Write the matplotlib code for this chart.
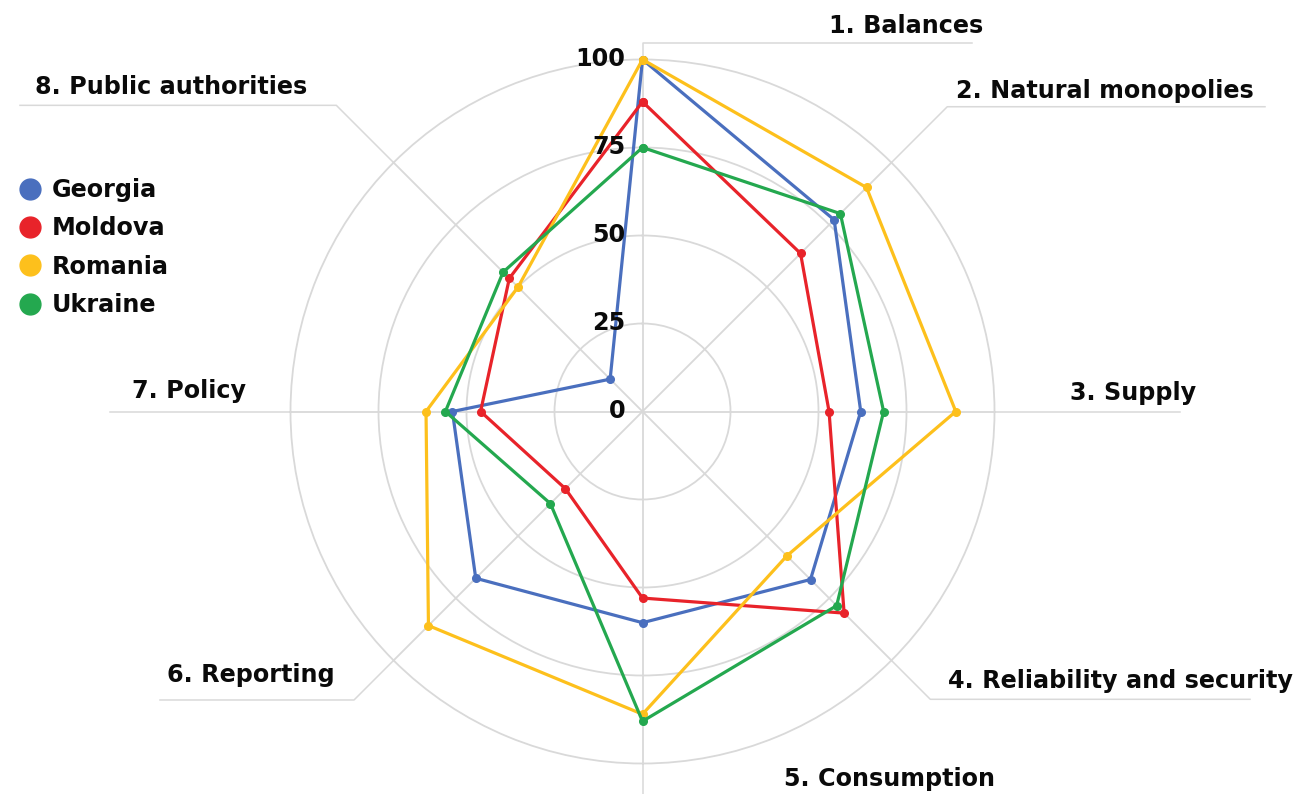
import numpy as np
import matplotlib
matplotlib.use("Agg")
import matplotlib.pyplot as plt
from matplotlib.lines import Line2D

# ---------------- data ----------------
categories = ["1. Balances", "2. Natural monopolies", "3. Supply",
              "4. Reliability and security", "5. Consumption",
              "6. Reporting", "7. Policy", "8. Public authorities"]
countries = ["Georgia", "Moldova", "Romania", "Ukraine"]
georgia = [100, 77, 62, 67.5, 60, 67, 54, 13]
moldova = [88, 63.5, 53, 81, 53, 31, 46, 53.5]
romania = [100, 90, 89, 58, 86, 86, 61.5, 50]
ukraine = [75, 79.5, 68.5, 78, 88, 37, 56, 56]
series = [georgia, moldova, romania, ukraine]
radial_ticks = [0, 25, 50, 75, 100]

colors = ["#4a6fbe", "#e8232a", "#fdc01c", "#24a84f"]
grid_col = "#d9d9d9"

# ---------------- figure ----------------
W, H = 1311, 794
fig = plt.figure(figsize=(W / 100, H / 100), dpi=100)
fig.patch.set_facecolor("white")

cx, cy, R = 642.5, 411.5, 352.0   # pixel layout of the radar (top-left origin)
FONT = dict(family="DejaVu Sans", weight="bold", size=17.2, color="#0a0a0a")

# overlay axes in pixel coordinates for leader lines / labels
ov = fig.add_axes([0, 0, 1, 1], zorder=0)
ov.set_xlim(0, W)
ov.set_ylim(H, 0)
ov.axis("off")
ov.patch.set_alpha(0)

ax = fig.add_axes([(cx - R) / W, (H - cy - R) / H, 2 * R / W, 2 * R / H],
                  projection="polar", zorder=1)
ax.patch.set_alpha(0)
ax.set_theta_zero_location("N")
ax.set_theta_direction(-1)
n = len(categories)
angles = np.arange(n) * 2 * np.pi / n
ax.set_ylim(0, 100)
ax.set_rgrids([25, 50, 75, 100], labels=[""] * 4)
ax.set_thetagrids(np.degrees(angles), labels=[""] * n)
ax.grid(True, color=grid_col, lw=1.3)
for gl in ax.yaxis.get_gridlines() + ax.xaxis.get_gridlines():
    gl.set_clip_on(False)
ax.spines["polar"].set_visible(False)
ax.tick_params(length=0)

for vals, name, col in zip(series, countries, colors):
    v = list(vals) + [vals[0]]
    a = list(angles) + [angles[0]]
    ax.plot(a, v, color=col, lw=2.3, marker="o", ms=5.5, clip_on=False,
            label=name, zorder=3)

# radial labels
for t in radial_ticks:
    ax.annotate(str(t), xy=(0, t), xytext=(-17, 0), textcoords="offset pixels",
                ha="right", va="center", **FONT, zorder=5)

# leader lines: (spoke end radius in px, horizontal end x in px or None)
leaders = [(368.5, 972), (431, 1265), (None, 1180), (407, 1250),
           (383, None), (408, 160), (None, 110), (433, 20)]
label_pos = [(906, 26), (1105, 91), (1133, 393), (1120, 681),
             (890, 779), (251, 675), (189, 391), (171, 87)]
for k, ((rr, xe), (lx, ly)) in enumerate(zip(leaders, label_pos)):
    dx, dy = np.sin(angles[k]), -np.cos(angles[k])
    x0, y0 = cx + R * dx, cy + R * dy
    if rr is None:
        x1, y1 = xe, cy
        ov.plot([x0, x1], [y0, y1], color=grid_col, lw=1.1)
    else:
        x1, y1 = cx + rr * dx, cy + rr * dy
        pts_x, pts_y = [x0, x1], [y0, y1]
        if xe is not None:
            pts_x.append(xe)
            pts_y.append(y1)
        ov.plot(pts_x, pts_y, color=grid_col, lw=1.1)
    ov.text(lx, ly, categories[k], ha="center", va="center", **FONT)

# legend
handles = [Line2D([], [], ls="none", marker="o", ms=15, color=c) for c in colors]
leg = fig.legend(handles, countries, loc="upper left",
                 bbox_to_anchor=(18 / W, 1 - 178 / H), frameon=False,
                 prop=dict(family="DejaVu Sans", weight="bold", size=17.2),
                 handlelength=1.0, handletextpad=0.4, labelspacing=0.6,
                 borderpad=0, borderaxespad=0)
for t in leg.get_texts():
    t.set_color("#0a0a0a")

fig.savefig("out.png", dpi=100)
